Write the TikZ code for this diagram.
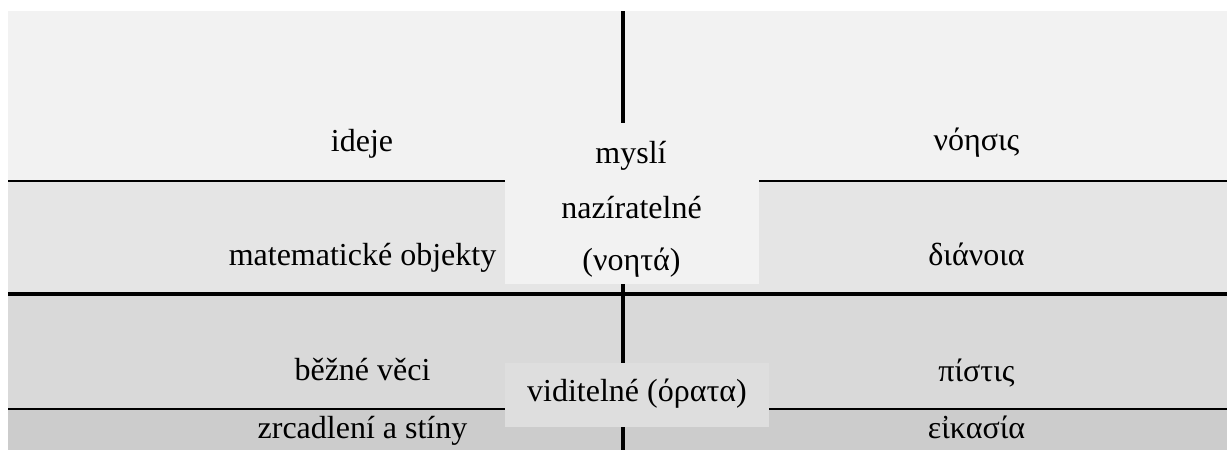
\documentclass[tikz,border=0pt]{standalone}
\usepackage{fontspec}
\setmainfont{Liberation Serif}
\definecolor{bandA}{HTML}{F2F2F2}
\definecolor{bandB}{HTML}{E5E5E5}
\definecolor{bandC}{HTML}{D9D9D9}
\definecolor{bandD}{HTML}{CCCCCC}
\definecolor{boxlow}{HTML}{DEDEDE}
\begin{document}
\begin{tikzpicture}[x=1pt,y=-1pt,
  lbl/.style={font=\fontsize{32}{38}\selectfont, anchor=base, inner sep=0pt},
  sep/.style={draw=black, line cap=butt}]
\useasboundingbox (0,0) rectangle (1227,450);
\fill[white] (0,0) rectangle (1227,450);
% bands
\fill[bandA] (8,11) rectangle (1227,181);
\fill[bandB] (8,181) rectangle (1227,294);
\fill[bandC] (8,294) rectangle (1227,409);
\fill[bandD] (8,409) rectangle (1227,450);
% separators
\coordinate (l1a) at (8,181);  \coordinate (l1b) at (1227,181);
\coordinate (l2a) at (8,294);  \coordinate (l2b) at (1227,294);
\coordinate (l3a) at (8,409);  \coordinate (l3b) at (1227,409);
\coordinate (vt) at (623,11);  \coordinate (vb) at (623,450);
\draw[sep, line width=2.2pt] (l1a) -- (l1b);
\draw[sep, line width=4pt] (l2a) -- (l2b);
\draw[sep, line width=2.6pt] (l3a) -- (l3b);
\draw[sep, line width=3.6pt] (vt) -- (vb);
% middle boxes
\node[fill=bandA, inner sep=0pt, minimum width=254pt, minimum height=161pt] (noeta) at (632,203.5) {};
\node[fill=boxlow, inner sep=0pt, minimum width=264pt, minimum height=64pt] (horata) at (637,395) {};
% middle labels
\node[lbl] (mysli) at (631,163) {myslí};
\node[lbl] (nazir) at (631.5,218) {nazíratelné};
\node[lbl] (noetaG) at (631.5,270) {(νοητά)};
\node[lbl] (vidit) at (637,401) {viditelné (όρατα)};
% left labels
\node[lbl] (ideje) at (362,151) {ideje};
\node[lbl] (mat) at (362.5,265) {matematické objekty};
\node[lbl] (bezne) at (362.5,380) {běžné věci};
\node[lbl] (zrcad) at (362.5,438) {zrcadlení a stíny};
% right labels
\node[lbl] (noesis) at (976.5,150) {νόησις};
\node[lbl] (dianoia) at (976.5,265) {διάνοια};
\node[lbl] (pistis) at (976.5,381) {πίστις};
\node[lbl] (eikasia) at (976.5,438) {εἰκασία};
\end{tikzpicture}
\end{document}
